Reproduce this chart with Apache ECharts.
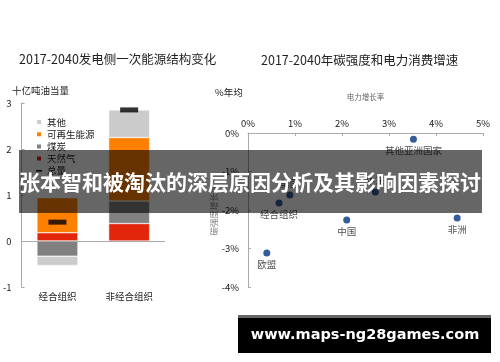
<!DOCTYPE html>
<html><head><meta charset="utf-8">
<script src="https://cdn.jsdelivr.net/npm/echarts@6/dist/echarts.min.js"></script>
<style>html,body{margin:0;padding:0;background:#fff}#c{width:500px;height:362px}</style>
</head><body><div id="c"></div>
<script>
// Left chart data
const categories = ['经合组织', '非经合组织'];
const gasValues = [0.18, 0.38];
const coalValues = [-0.33, 0.49];
const renewValues = [0.76, 1.38];
const otherValues = [-0.20, 0.60];
const totalValues = [0.41, 2.85];
const leftYTicks = [-1, 0, 1, 2, 3];
// Right chart data
const regionNames = ['其他亚洲国家', '美国', '中东', '经合组织', '中国', '非洲', '欧盟'];
const powerGrowth = [3.52, 0.89, 2.71, 0.66, 2.10, 4.45, 0.40];
const carbonGrowth = [-0.16, -1.61, -1.53, -1.82, -2.26, -2.21, -3.12];
const labelPos = ['bottom', 'top', 'top', 'bottom', 'bottom', 'bottom', 'bottom'];

const FONT = '"Noto Sans CJK SC", "Noto Sans", sans-serif';
const chart = echarts.init(document.getElementById('c'), null, {renderer: 'canvas'});
const barBorder = {borderColor: '#fff', borderWidth: 0.5};
const option = {
  animation: false,
  textStyle: {fontFamily: FONT},
  title: [
    {text: '2017-2040发电侧一次能源结构变化', left: 14, top: 48, textStyle: {fontSize: 12.5, fontWeight: 'normal', color: '#222', fontFamily: FONT}},
    {text: '2017-2040年碳强度和电力消费增速', left: 256, top: 49, textStyle: {fontSize: 12.5, fontWeight: 'normal', color: '#222', fontFamily: FONT}},
    {text: '十亿吨油当量', left: 7, top: 81, textStyle: {fontSize: 9.5, fontWeight: 'normal', color: '#222', fontFamily: FONT}},
    {text: '%年均', left: 210, top: 83, textStyle: {fontSize: 9.5, fontWeight: 'normal', color: '#222', fontFamily: FONT}}
  ],
  legend: {
    orient: 'vertical', left: 30, top: 112, itemWidth: 6, itemHeight: 6, itemGap: 2.2,
    textStyle: {fontSize: 9.5, color: '#222', lineHeight: 10, fontFamily: FONT},
    data: [
      {name: '其他', icon: 'rect'},
      {name: '可再生能源', icon: 'rect'},
      {name: '煤炭', icon: 'rect'},
      {name: '天然气', icon: 'rect'},
      {name: '总量', icon: 'path://M0,0h10v3h-10z'}
    ]
  },
  grid: [
    {left: 20, right: 335, top: 103, bottom: 75},
    {left: 248, right: 17, top: 133, bottom: 75}
  ],
  xAxis: [
    {type: 'category', gridIndex: 0, data: categories,
     axisLine: {show: false}, axisTick: {show: false},
     axisLabel: {fontSize: 9.5, color: '#222', margin: 5}},
    {type: 'value', gridIndex: 1, position: 'top', min: 0, max: 5, interval: 1,
     name: '电力增长率', nameLocation: 'middle', nameGap: 32,
     nameTextStyle: {fontSize: 7.5, color: '#666'},
     axisLine: {onZero: false, lineStyle: {color: '#aaa'}},
     axisTick: {inside: true, length: 3, lineStyle: {color: '#aaa'}},
     axisLabel: {fontSize: 9.5, color: '#222', margin: 5, formatter: v => v + '%'},
     splitLine: {show: false}}
  ],
  yAxis: [
    {type: 'value', gridIndex: 0, min: leftYTicks[0], max: leftYTicks[leftYTicks.length - 1], interval: 1,
     axisLine: {show: true, lineStyle: {color: '#aaa'}},
     axisTick: {show: true, inside: true, length: 3, lineStyle: {color: '#aaa'}},
     axisLabel: {fontSize: 9.5, color: '#222', margin: 10},
     splitLine: {show: false}},
    {type: 'value', gridIndex: 1, min: -4, max: 0, interval: 1,
     name: '碳强度增长率', nameLocation: 'middle', nameRotate: 90, nameGap: 30,
     nameTextStyle: {fontSize: 8.5, color: '#888'},
     axisLine: {show: true, onZero: false, lineStyle: {color: '#aaa'}},
     axisTick: {show: true, inside: true, length: 3, lineStyle: {color: '#aaa'}},
     axisLabel: {fontSize: 9.5, color: '#222', margin: 9, formatter: v => v + '%'},
     splitLine: {show: false}}
  ],
  series: [
    {name: '天然气', type: 'bar', stack: 'a', xAxisIndex: 0, yAxisIndex: 0, barWidth: 41,
     data: gasValues, itemStyle: Object.assign({color: '#e2260c'}, barBorder),
     markLine: {silent: true, symbol: 'none', label: {show: false},
       lineStyle: {color: '#aaa', type: 'solid', width: 1}, data: [{yAxis: 0}]}},
    {name: '煤炭', type: 'bar', stack: 'a', xAxisIndex: 0, yAxisIndex: 0, barWidth: 41,
     data: coalValues, itemStyle: Object.assign({color: '#808080'}, barBorder)},
    {name: '可再生能源', type: 'bar', stack: 'a', xAxisIndex: 0, yAxisIndex: 0, barWidth: 41,
     data: renewValues, itemStyle: Object.assign({color: '#ff8000'}, barBorder)},
    {name: '其他', type: 'bar', stack: 'a', xAxisIndex: 0, yAxisIndex: 0, barWidth: 41,
     data: otherValues, itemStyle: Object.assign({color: '#cbcbcb'}, barBorder)},
    {name: '总量', type: 'scatter', xAxisIndex: 0, yAxisIndex: 0, symbol: 'rect', symbolSize: [18, 5],
     data: totalValues, itemStyle: {color: '#000'}, z: 5},
    {name: '地区', type: 'scatter', xAxisIndex: 1, yAxisIndex: 1, symbolSize: 7,
     itemStyle: {color: '#00337f'},
     data: regionNames.map((n, i) => ({name: n, value: [powerGrowth[i], carbonGrowth[i]],
       label: {position: labelPos[i]}})),
     label: {show: true, formatter: p => p.name, fontSize: 9.5, color: '#222', distance: 3}}
  ],
  graphic: [
    {type: 'rect', left: 19, top: 150, shape: {width: 463, height: 63}, style: {fill: 'rgba(0,0,0,0.6)'}, z: 100},
    {type: 'text', x: 250, y: 182, z: 101,
     style: {text: '张本智和被淘汰的深层原因分析及其影响因素探讨', fill: '#fff', fontSize: 21, fontWeight: 'bold',
       fontFamily: FONT, textAlign: 'center', textVerticalAlign: 'middle'}},
    {type: 'rect', left: 238, top: 315, shape: {width: 253, height: 3}, style: {fill: '#666'}, z: 100},
    {type: 'rect', left: 238, top: 318, shape: {width: 253, height: 35}, style: {fill: '#000'}, z: 100},
    {type: 'text', x: 365, y: 335.5, z: 101,
     style: {text: 'www.maps-ng28games.com', fill: '#fff', fontSize: 14.5, fontWeight: 'bold',
       fontFamily: '"DejaVu Sans", sans-serif', textAlign: 'center', textVerticalAlign: 'middle'}}
  ]
};
chart.setOption(option);
</script></body></html>
